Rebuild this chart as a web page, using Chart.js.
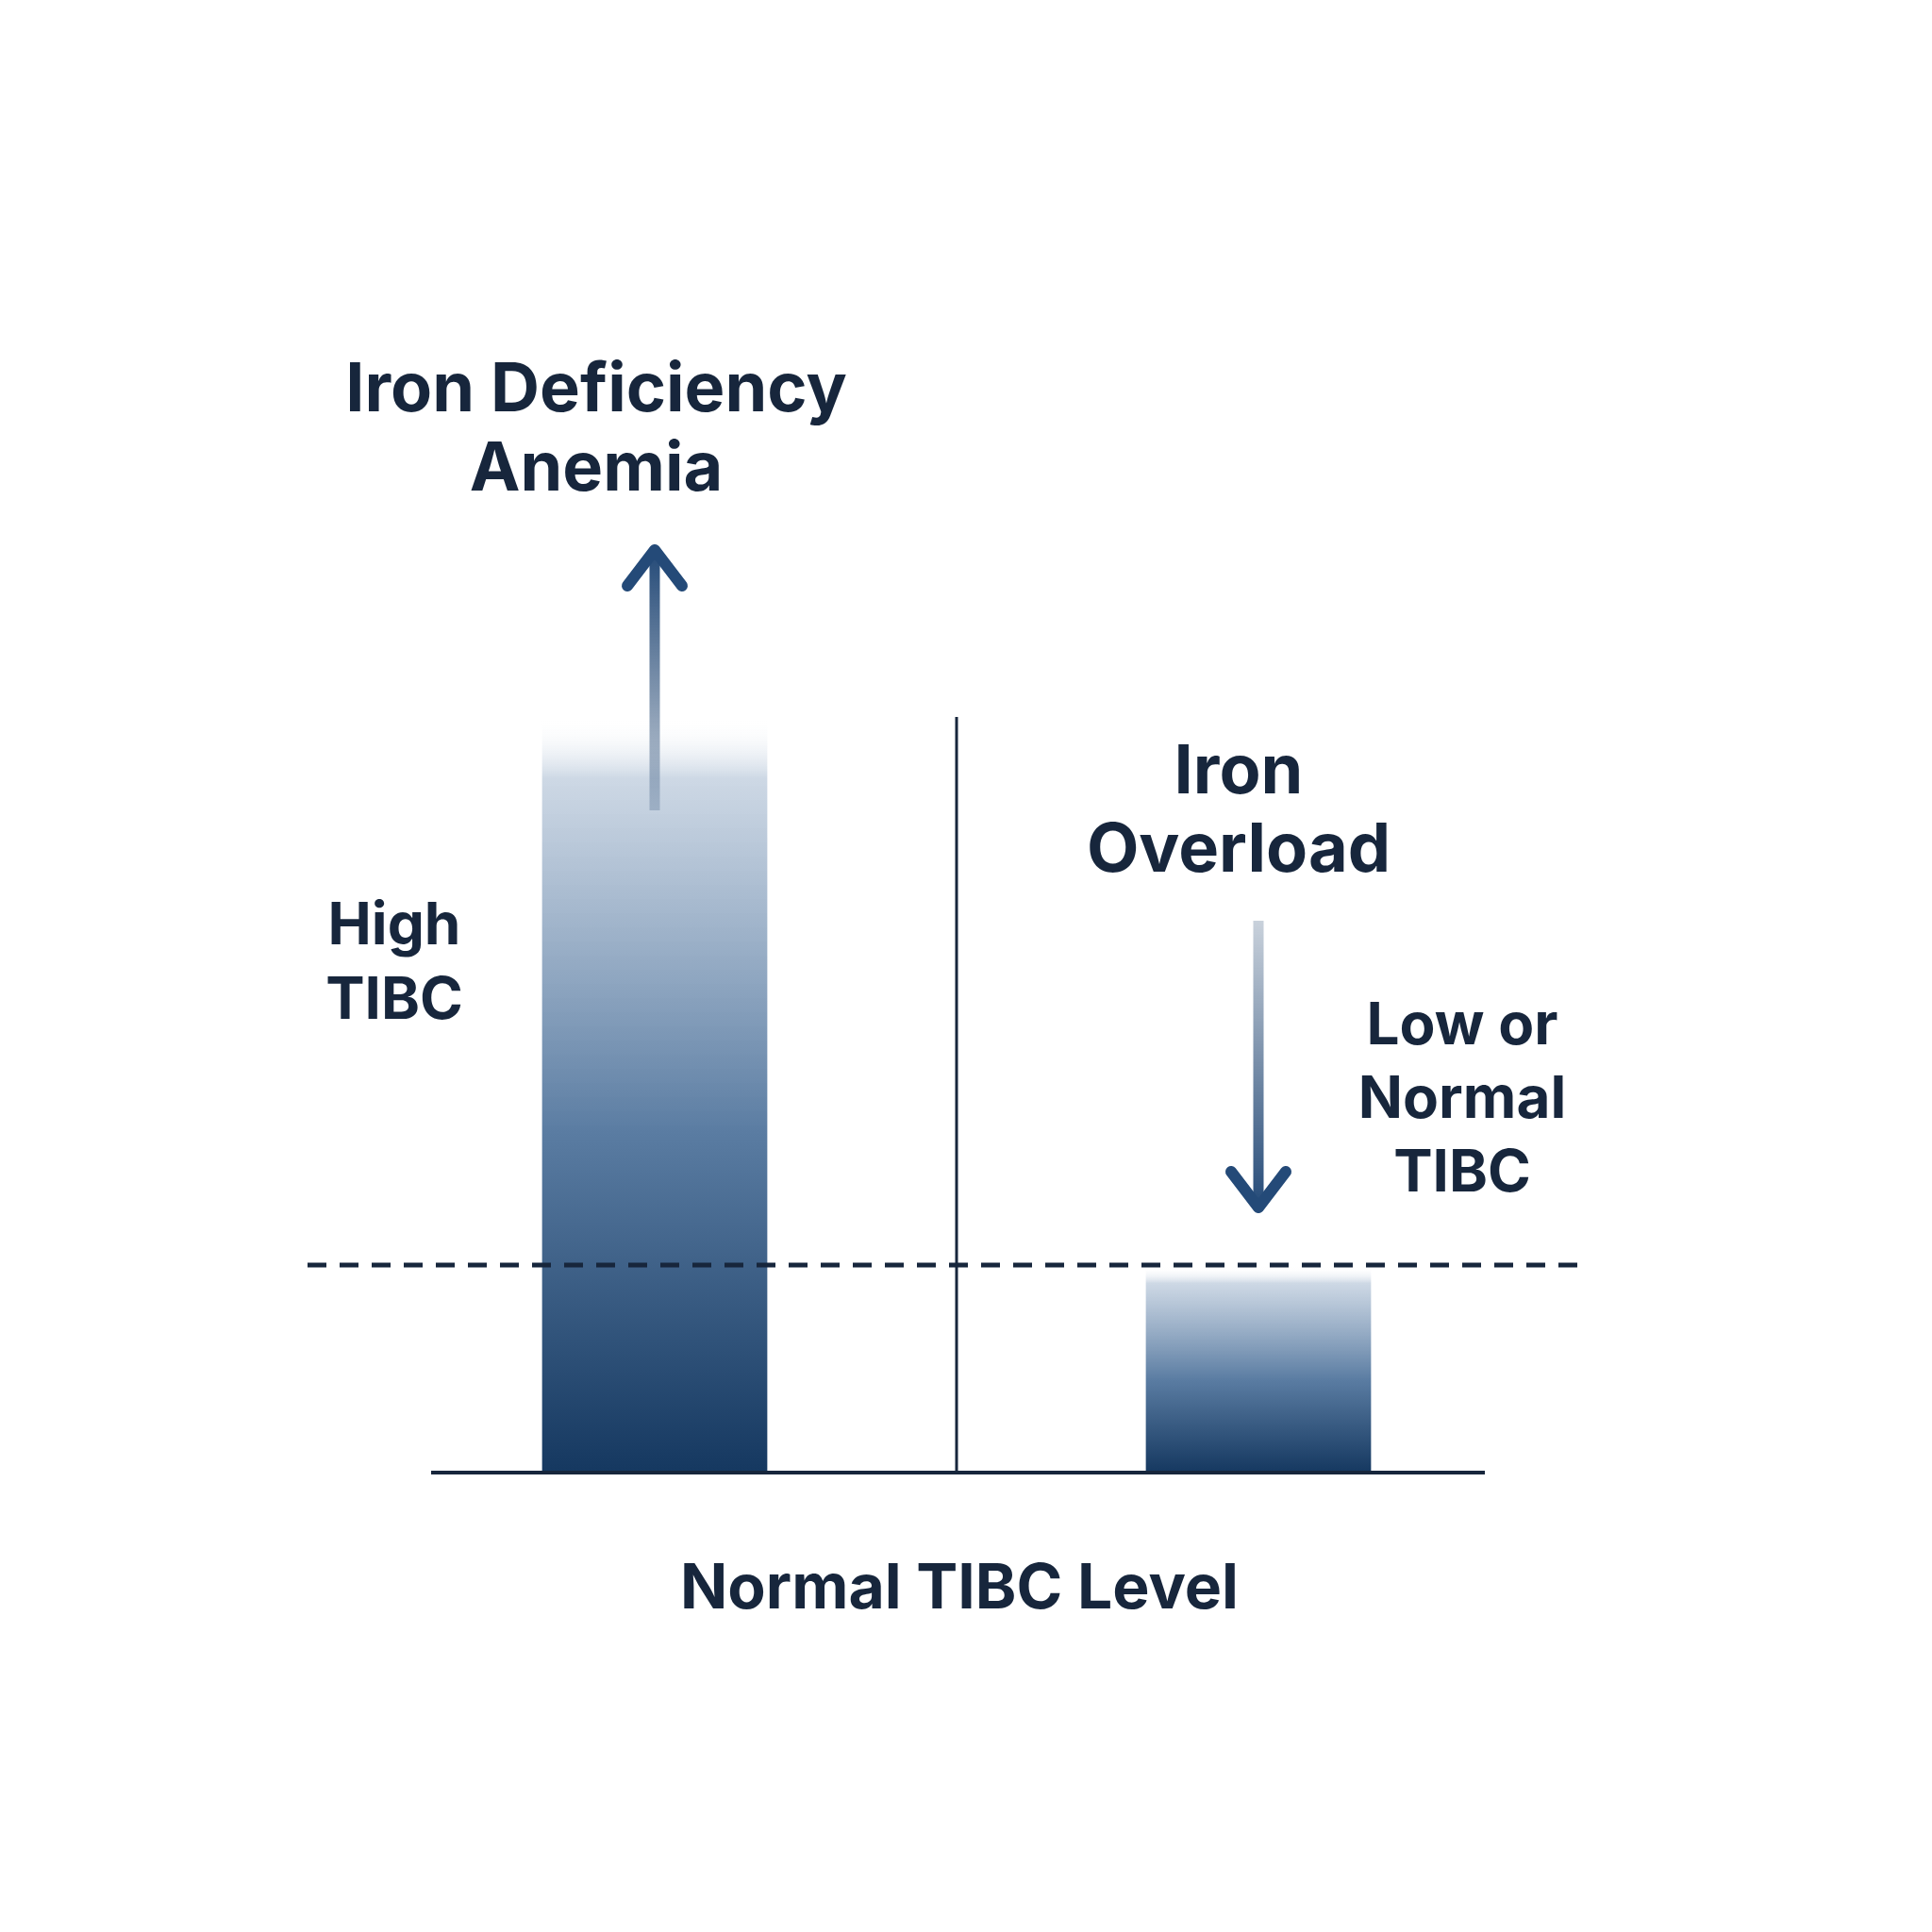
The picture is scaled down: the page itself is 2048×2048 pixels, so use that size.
<!DOCTYPE html>
<html>
<head>
<meta charset="utf-8">
<script src="https://cdn.jsdelivr.net/npm/chart.js"></script>
<style>
  html, body { margin: 0; background: #fff; }
  #wrap { width: 2048px; height: 2048px; }
</style>
</head>
<body>
<div id="wrap"><canvas id="tibc" width="2048" height="2048"></canvas></div>
<script>
const categories = ['Iron Deficiency Anemia', 'Iron Overload']
const tibcValues = [80, 21.8]
const normalLevel = 22
const yMax = 100

const ink = '#17263c'
const navy = '#163a63'

// gradient bars: dark at base, fade to white at top
function barFill(ctx) {
  const chart = ctx.chart
  const area = chart.chartArea
  if (!area || ctx.type !== 'data') return navy
  const y = chart.scales.y
  const top = y.getPixelForValue(ctx.raw)
  const base = y.getPixelForValue(0)
  const g = chart.ctx.createLinearGradient(0, base, 0, top)
  g.addColorStop(0, '#153860')
  g.addColorStop(0.45, '#5a7ca2')
  g.addColorStop(0.92, 'rgba(200,212,226,0.9)')
  g.addColorStop(1, 'rgba(255,255,255,0)')
  return g
}

function arrow(c, x, yFrom, yTo) {
  const g = c.createLinearGradient(0, yFrom, 0, yTo)
  g.addColorStop(0, 'rgba(40,74,115,0.25)')
  g.addColorStop(1, '#244a78')
  c.strokeStyle = g
  c.lineWidth = 11
  c.beginPath(); c.moveTo(x, yFrom); c.lineTo(x, yTo); c.stroke()
  const d = yTo < yFrom ? 1 : -1
  c.strokeStyle = '#244a78'
  c.lineWidth = 12
  c.lineCap = 'round'; c.lineJoin = 'round'
  c.beginPath()
  c.moveTo(x - 29, yTo + d * 38); c.lineTo(x, yTo); c.lineTo(x + 29, yTo + d * 38)
  c.stroke()
  c.lineCap = 'butt'
}

function lines(c, arr, x, y0, step, size) {
  c.font = 'bold ' + size + 'px Inter, "Noto Sans", sans-serif'
  c.fillStyle = ink
  c.textAlign = 'center'
  c.textBaseline = 'middle'
  arr.forEach((t, i) => c.fillText(t, x, y0 + i * step))
}

const decor = {
  id: 'decor',
  afterDatasetsDraw(chart) {
    const c = chart.ctx
    const y = chart.scales.y
    const x = chart.scales.x
    const base = y.getPixelForValue(0)
    c.save()
    // baseline
    c.strokeStyle = ink; c.lineWidth = 4
    c.beginPath(); c.moveTo(457, base); c.lineTo(1574, base); c.stroke()
    // divider between groups
    const mid = (x.getPixelForValue(0) + x.getPixelForValue(1)) / 2
    c.lineWidth = 3
    c.beginPath(); c.moveTo(mid, 760); c.lineTo(mid, base); c.stroke()
    // normal level dashed
    const ny = y.getPixelForValue(normalLevel)
    c.setLineDash([20, 14]); c.lineWidth = 5
    c.beginPath(); c.moveTo(326, ny); c.lineTo(1680, ny); c.stroke()
    c.setLineDash([])
    // arrows
    arrow(c, x.getPixelForValue(0), 859, 583)
    arrow(c, x.getPixelForValue(1), 976, 1280)
    // labels
    lines(c, ['Iron Deficiency', 'Anemia'], 632, 414, 84, 72)
    lines(c, ['High', 'TIBC'], 418, 982, 79, 62)
    lines(c, ['Iron', 'Overload'], 1313, 819, 83, 72)
    lines(c, ['Low or', 'Normal', 'TIBC'], 1550, 1088, 78, 62)
    lines(c, ['Normal TIBC Level'], 1017, 1685, 0, 66)
    c.restore()
  }
}

new Chart(document.getElementById('tibc'), {
  type: 'bar',
  data: {
    labels: categories,
    datasets: [{
      data: tibcValues,
      backgroundColor: barFill,
      borderWidth: 0,
      barPercentage: 0.373,
      categoryPercentage: 1
    }]
  },
  options: {
    responsive: false,
    animation: false,
    layout: { padding: { left: 374, right: 394, top: 561, bottom: 487 } },
    plugins: { legend: { display: false }, tooltip: { enabled: false } },
    scales: {
      x: { display: false, offset: true },
      y: { display: false, min: 0, max: yMax }
    }
  },
  plugins: [decor]
})
</script>
</body>
</html>
